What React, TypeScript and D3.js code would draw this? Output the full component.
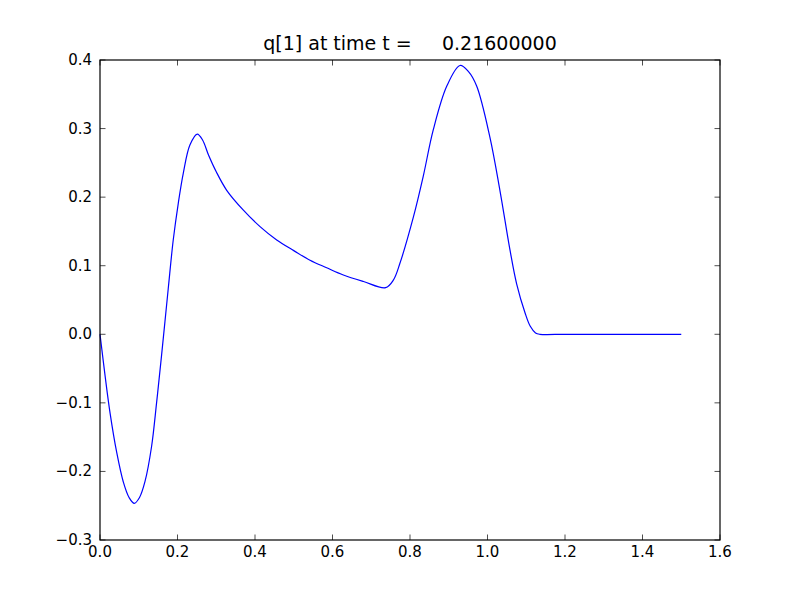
import React, { useEffect, useRef } from 'react';
import * as d3 from 'd3';

// curve samples
const xValues = [
  0, 0.013, 0.026, 0.043, 0.06, 0.075, 0.0885, 0.102, 0.116, 0.133, 0.146, 0.159,
  0.176, 0.189, 0.202, 0.215, 0.232, 0.251, 0.265, 0.28, 0.3, 0.327, 0.37, 0.413, 0.456,
  0.5, 0.542, 0.585, 0.628, 0.68, 0.737, 0.757, 0.774, 0.809, 0.834, 0.86, 0.895, 0.929,
  0.951, 0.972, 1.006, 1.032, 1.058, 1.075, 1.097, 1.11, 1.124, 1.135, 1.2, 1.3, 1.4, 1.5,
];
const yValues = [
  0, -0.06, -0.115, -0.172, -0.215, -0.238, -0.2465, -0.238, -0.215, -0.164, -0.1, -0.03,
  0.066, 0.1375, 0.191, 0.235, 0.276, 0.292, 0.283, 0.2615, 0.237, 0.21, 0.181, 0.157,
  0.1375, 0.122, 0.108, 0.097, 0.0865, 0.077, 0.068, 0.079, 0.1035, 0.1715, 0.23, 0.298, 0.362,
  0.392, 0.383, 0.362, 0.288, 0.21, 0.123, 0.074, 0.031, 0.012, 0.002, 0, 0, 0, 0, 0,
];
const xTicks = [0, 0.2, 0.4, 0.6, 0.8, 1.0, 1.2, 1.4, 1.6];
const yTicks = [-0.3, -0.2, -0.1, 0, 0.1, 0.2, 0.3, 0.4];
const title = 'q[1] at time t =     0.21600000';

const App = () => {
  const chartRef = useRef<HTMLDivElement>(null);

  useEffect(() => {
    const W = 800;
    const H = 600;
    const margin = { top: 60, right: 80, bottom: 60, left: 100 };
    const width = W - margin.left - margin.right;
    const height = H - margin.top - margin.bottom;
    const font = 'DejaVu Sans';
    const fmt = (v: number) => d3.format('.1f')(v).replace('-', '\u2212');

    d3.select(chartRef.current).selectAll('*').remove();
    const svg = d3
      .select(chartRef.current)
      .append('svg')
      .attr('width', W)
      .attr('height', H)
      .style('position', 'absolute')
      .style('left', 0)
      .style('top', 0)
      .style('background', '#fff');

    const g = svg.append('g').attr('transform', `translate(${margin.left}, ${margin.top})`);

    const x = d3.scaleLinear().domain([0, 1.6]).range([0, width]);
    const y = d3.scaleLinear().domain([-0.3, 0.4]).range([height, 0]);

    const data = xValues.map((v, i) => [v, yValues[i]] as [number, number]);
    const line = d3
      .line<[number, number]>()
      .x((d) => x(d[0]))
      .y((d) => y(d[1]))
      .curve(d3.curveCatmullRom.alpha(0.5));

    g.append('path')
      .datum(data)
      .attr('d', line)
      .attr('fill', 'none')
      .attr('stroke', '#0000ff')
      .attr('stroke-width', 1.2);

    const tl = 5.5;
    // ticks on all four sides, pointing in
    xTicks.forEach((t) => {
      const px = x(t);
      g.append('line').attr('x1', px).attr('x2', px).attr('y1', height).attr('y2', height - tl)
        .attr('stroke', '#000').attr('stroke-width', 0.7);
      g.append('line').attr('x1', px).attr('x2', px).attr('y1', 0).attr('y2', tl)
        .attr('stroke', '#000').attr('stroke-width', 0.7);
      g.append('text')
        .attr('x', px)
        .attr('y', height + 17)
        .attr('text-anchor', 'middle')
        .attr('font-family', font)
        .attr('font-size', 15)
        .text(fmt(t));
    });
    yTicks.forEach((t) => {
      const py = y(t);
      g.append('line').attr('x1', 0).attr('x2', tl).attr('y1', py).attr('y2', py)
        .attr('stroke', '#000').attr('stroke-width', 0.7);
      g.append('line').attr('x1', width).attr('x2', width - tl).attr('y1', py).attr('y2', py)
        .attr('stroke', '#000').attr('stroke-width', 0.7);
      g.append('text')
        .attr('x', -8)
        .attr('y', py + 5)
        .attr('text-anchor', 'end')
        .attr('font-family', font)
        .attr('font-size', 15)
        .text(fmt(t));
    });

    g.append('rect')
      .attr('width', width)
      .attr('height', height)
      .attr('fill', 'none')
      .attr('stroke', '#000')
      .attr('stroke-width', 1.2);

    svg.append('text')
      .attr('x', margin.left + width / 2)
      .attr('y', margin.top - 10)
      .attr('text-anchor', 'middle')
      .attr('font-family', font)
      .attr('font-size', 19)
      .style('white-space', 'pre')
      .text(title);
  }, []);

  return <div ref={chartRef} />;
};

export default App;
